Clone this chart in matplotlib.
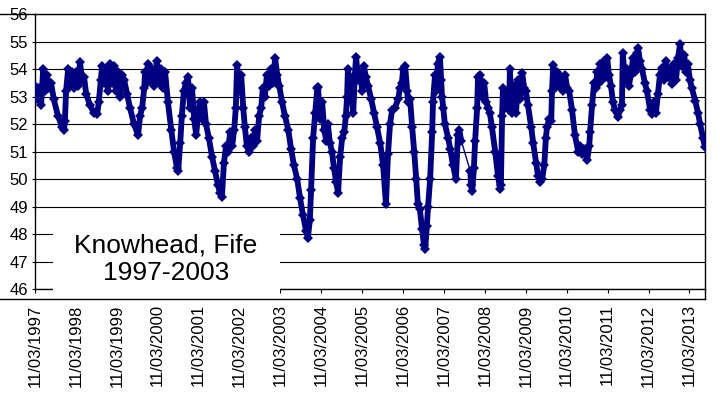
import numpy as np
import matplotlib.pyplot as plt
from matplotlib.patches import Rectangle
from matplotlib.lines import Line2D

plt.rcParams['font.family'] = ['Liberation Sans', 'DejaVu Sans']

years = [
    1997.19, 1997.24, 1997.29, 1997.34, 1997.39, 1997.43, 1997.48, 1997.53, 1997.58, 1997.65, 1997.75, 1997.85, 1997.90, 1997.92, 1997.95,
    1998.00, 1998.05, 1998.09, 1998.14, 1998.19, 1998.24, 1998.29, 1998.34, 1998.39, 1998.44, 1998.53, 1998.63, 1998.71, 1998.75,
    1998.80, 1998.83, 1998.88, 1998.93, 1998.97, 1999.02, 1999.07, 1999.12, 1999.17, 1999.22, 1999.27, 1999.32, 1999.37, 1999.44, 1999.51, 1999.61, 1999.71,
    1999.76, 1999.81, 1999.86, 1999.88, 1999.93, 1999.95, 2000.00, 2000.05, 2000.10, 2000.17, 2000.22, 2000.27, 2000.32, 2000.37, 2000.44, 2000.52, 2000.59, 2000.66, 2000.69,
    2000.74, 2000.78, 2000.83, 2000.88, 2000.93, 2000.98, 2001.03, 2001.08, 2001.13, 2001.18, 2001.22, 2001.27, 2001.32, 2001.37, 2001.44, 2001.52, 2001.59, 2001.66, 2001.71, 2001.76,
    2001.81, 2001.86, 2001.91, 2001.96, 2002.01, 2002.06, 2002.10, 2002.13, 2002.18, 2002.23, 2002.28, 2002.32, 2002.37, 2002.42, 2002.47, 2002.52, 2002.57, 2002.62,
    2002.67, 2002.72, 2002.76, 2002.81, 2002.86, 2002.91, 2002.96, 2003.01, 2003.06, 2003.11, 2003.16, 2003.23, 2003.30, 2003.38, 2003.45, 2003.52, 2003.60, 2003.67, 2003.74, 2003.82, 2003.86,
    2003.91, 2003.94, 2003.99, 2004.04, 2004.09, 2004.11, 2004.16, 2004.21, 2004.26, 2004.31, 2004.35, 2004.40, 2004.45, 2004.50, 2004.55, 2004.60,
    2004.65, 2004.70, 2004.75, 2004.79, 2004.82, 2004.84, 2004.89, 2004.94, 2004.97, 2005.01, 2005.04, 2005.09, 2005.14, 2005.19, 2005.23, 2005.28, 2005.33, 2005.41, 2005.48, 2005.55, 2005.63, 2005.70, 2005.77,
    2005.82, 2005.87, 2005.92, 2005.99, 2006.07, 2006.11, 2006.16, 2006.19, 2006.24, 2006.29, 2006.31, 2006.36, 2006.41, 2006.46, 2006.51, 2006.55, 2006.60, 2006.65, 2006.70, 2006.73,
    2006.77, 2006.80, 2006.85, 2006.90, 2006.92, 2006.97, 2007.00, 2007.04, 2007.09, 2007.12, 2007.14, 2007.17, 2007.21, 2007.29, 2007.34, 2007.41, 2007.48, 2007.53, 2007.56, 2007.61,
    2007.83, 2007.85, 2007.88, 2007.92, 2007.95, 2008.00, 2008.02, 2008.07, 2008.12, 2008.17, 2008.22, 2008.27, 2008.31, 2008.36, 2008.44, 2008.51, 2008.56, 2008.58,
    2008.61, 2008.63, 2008.68, 2008.73, 2008.78, 2008.80, 2008.85, 2008.90, 2008.95, 2009.00, 2009.05, 2009.10, 2009.15, 2009.19, 2009.24, 2009.32, 2009.37, 2009.44, 2009.49, 2009.54,
    2009.59, 2009.64, 2009.68, 2009.71, 2009.76, 2009.81, 2009.83, 2009.86, 2009.91, 2009.95, 2010.00, 2010.05, 2010.10, 2010.15, 2010.20, 2010.25, 2010.32, 2010.39, 2010.47, 2010.51, 2010.56, 2010.61, 2010.69,
    2010.74, 2010.76, 2010.81, 2010.86, 2010.91, 2010.93, 2010.98, 2011.00, 2011.05, 2011.10, 2011.15, 2011.18, 2011.22, 2011.27, 2011.32, 2011.37, 2011.44, 2011.49, 2011.54,
    2011.56, 2011.61, 2011.66, 2011.71, 2011.76, 2011.81, 2011.86, 2011.91, 2011.93, 2011.98, 2012.03, 2012.10, 2012.15, 2012.23, 2012.27,
    2012.32, 2012.37, 2012.42, 2012.47, 2012.52, 2012.57, 2012.61, 2012.66, 2012.71, 2012.76, 2012.81, 2012.86, 2012.91, 2012.96, 2013.01, 2013.06, 2013.11, 2013.15, 2013.20, 2013.25, 2013.33, 2013.40, 2013.45, 2013.52, 2013.57,
]
levels = [
    53.4, 52.9, 53.3, 52.7, 54.0, 53.2, 53.8, 53.3, 53.5, 52.9, 52.3, 51.9, 51.8, 52.1, 53.2,
    54.0, 53.4, 53.9, 53.3, 53.9, 53.4, 54.25, 53.6, 53.7, 53.1, 52.7, 52.4, 52.35, 52.8,
    53.6, 54.1, 53.5, 54.0, 53.2, 54.2, 53.5, 54.1, 53.2, 53.9, 53.0, 53.8, 53.6, 53.1, 52.6, 52.0, 51.6,
    52.3, 52.6, 53.3, 53.9, 53.5, 54.2, 53.6, 54.0, 53.4, 54.3, 53.5, 54.0, 53.3, 53.9, 52.8, 51.8, 51.0, 50.4, 50.3,
    51.3, 52.3, 53.2, 53.5, 53.7, 52.6, 53.3, 52.2, 51.6, 52.4, 52.8, 52.2, 52.8, 52.0, 51.5, 50.8, 50.3, 49.8, 49.5, 49.35,
    50.6, 51.2, 51.0, 51.7, 51.2, 51.8, 52.6, 54.15, 53.2, 53.8, 52.6, 51.9, 51.2, 51.0, 51.5, 51.2, 51.8, 51.4,
    52.3, 52.6, 53.3, 53.0, 53.8, 53.4, 54.0, 53.5, 54.4, 53.8, 53.4, 52.8, 52.3, 51.8, 51.1, 50.5, 50.0, 49.3, 48.7, 48.1, 47.85,
    48.5, 49.6, 51.5, 52.4, 53.3, 53.35, 52.2, 52.8, 51.8, 51.4, 52.0, 51.3, 51.0, 50.4, 49.9, 49.5,
    50.8, 51.5, 51.7, 52.3, 53.0, 54.0, 53.5, 52.9, 52.4, 53.8, 54.45, 53.6, 53.9, 53.2, 54.1, 53.7, 53.4, 52.9, 52.4, 51.9, 51.3, 50.5, 49.1,
    50.9, 52.0, 52.5, 52.6, 52.9, 53.3, 53.5, 54.0, 54.1, 53.2, 52.8, 52.9, 51.9, 51.0, 50.0, 49.1, 48.9, 48.2, 47.6, 47.45,
    48.3, 49.0, 50.0, 51.7, 52.8, 53.8, 53.2, 54.2, 54.45, 53.6, 53.0, 52.6, 52.0, 51.5, 51.1, 50.5, 50.0, 51.6, 51.8, 51.4,
    50.3, 49.8, 49.55, 50.4, 51.4, 52.6, 53.7, 53.8, 53.0, 53.5, 52.8, 52.6, 52.4, 51.9, 51.0, 50.1, 49.65, 49.8,
    52.3, 53.3, 52.6, 53.2, 52.5, 54.0, 52.4, 53.4, 52.4, 53.6, 52.9, 53.85, 53.3, 53.2, 52.7, 51.9, 51.3, 50.6, 50.1, 49.9,
    50.0, 50.5, 51.5, 51.9, 52.2, 52.1, 53.2, 54.15, 53.3, 53.9, 53.4, 53.7, 53.2, 53.8, 53.3, 53.2, 52.5, 51.6, 51.0, 51.2, 50.9, 51.1, 50.7,
    51.2, 51.7, 52.7, 53.5, 53.3, 53.9, 53.5, 54.2, 53.6, 54.3, 53.7, 54.4, 53.8, 53.4, 52.8, 52.5, 52.25, 52.5, 52.7,
    54.6, 53.6, 54.0, 53.4, 53.8, 54.4, 53.9, 54.6, 54.75, 54.3, 54.0, 53.5, 53.2, 52.5, 52.35,
    52.8, 52.4, 53.1, 53.8, 54.05, 53.6, 54.3, 53.7, 54.0, 53.45, 54.2, 53.6, 54.4, 54.9, 54.1, 54.5, 53.9, 54.2, 53.6, 53.3, 52.85, 52.4, 52.0, 51.5, 51.15,
]
tick_labels = ['11/03/1997', '11/03/1998', '11/03/1999', '11/03/2000', '11/03/2001',
               '11/03/2002', '11/03/2003', '11/03/2004', '11/03/2005', '11/03/2006',
               '11/03/2007', '11/03/2008', '11/03/2009', '11/03/2010', '11/03/2011',
               '11/03/2012', '11/03/2013']
start = 1997.19  # 11 March 1997

years = np.array(years)
levels = np.array(levels)

# break the thick trace where the record has a gap
gap = np.where(np.diff(years) > 0.15)[0] + 1
thick_x = np.insert(years, gap, np.nan)
thick_y = np.insert(levels, gap, np.nan)

W, H = 720, 398
fig = plt.figure(figsize=(W / 100, H / 100), dpi=100)
ax = fig.add_axes([35 / W, 1 - 289 / H, 670 / W, 275 / H])

navy = '#000080'
ax.plot(years, levels, color=navy, lw=1, marker='D', ms=5, mew=0, zorder=3)
ax.plot(thick_x, thick_y, color=navy, lw=4.2, solid_capstyle='round',
        solid_joinstyle='round', zorder=3)

ax.set_xlim(start, 2013.57)
ax.set_ylim(46, 56)
ax.set_yticks(range(46, 57))
ax.set_xticks([start + i for i in range(len(tick_labels))])
ax.set_xticklabels(tick_labels, rotation=90)
ax.grid(axis='y', color='black', lw=0.8)
ax.grid(axis='x', visible=False)
ax.tick_params(axis='y', length=2, width=0.8, pad=3, labelsize=12)
ax.tick_params(axis='x', length=3, width=0.8, pad=8, labelsize=12)
for s in ax.spines.values():
    s.set_color('black')
    s.set_linewidth(1)

# outer frame pieces
fig.add_artist(Line2D([0, 35 / W], [1 - 14 / H] * 2, color='black', lw=1))
fig.add_artist(Line2D([0, 705 / W], [1 - 299 / H] * 2, color='black', lw=1))
fig.add_artist(Line2D([705 / W] * 2, [1 - 299 / H, 1 - 289 / H], color='black', lw=1))

# label box over the lower-left corner
fig.add_artist(Rectangle((53 / W, 1 - 295 / H), 227 / W, 80 / H,
                         facecolor='white', edgecolor='none', zorder=5))
fig.text(166 / W, 1 - 259 / H, 'Knowhead, Fife\n1997-2003', ha='center', va='center',
         fontsize=19, linespacing=1.2, zorder=6)

fig.savefig('out.png', dpi=100)
